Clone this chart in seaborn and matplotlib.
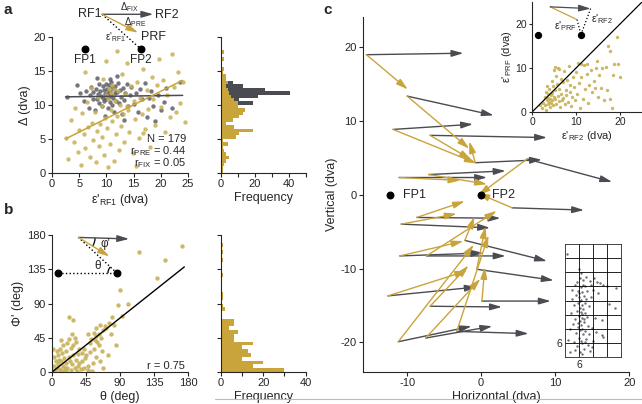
import numpy as np
import pandas as pd
import matplotlib.pyplot as plt
import seaborn as sns
from matplotlib.patches import Arc
from matplotlib.lines import Line2D

# ---- panel a: error of RF1 vs shift size ----
a_fix_x = [2.8, 4.5, 5.2, 5.8, 6.3, 6.8, 7.0, 7.2, 7.5, 7.6, 7.9, 8.1, 8.2, 8.4, 8.6, 8.7, 8.9, 9.0,
           9.1, 9.3, 9.4, 9.5, 9.6, 9.8, 9.9, 10.0, 10.1, 10.2, 10.3, 10.4, 10.5, 10.6, 10.7, 10.8,
           10.9, 11.0, 11.1, 11.2, 11.3, 11.4, 11.5, 11.6, 11.8, 12.0, 12.1, 12.3, 12.5, 12.7, 12.9,
           13.0, 13.3, 13.5, 13.8, 14.0, 14.3, 14.6, 15.0, 15.4, 15.8, 16.2, 16.6, 17.0, 17.4, 17.8,
           18.2, 18.6, 19.0, 19.5, 20.0, 20.5, 21.0, 22.0, 23.5, 13.2, 9.7, 11.9, 10.6, 8.3]
a_fix_y = [11.2, 12.9, 11.8, 10.5, 12.1, 9.6, 11.4, 12.6, 10.8, 11.9, 9.2, 12.4, 10.9, 11.6, 13.1,
           10.2, 12.0, 11.3, 9.8, 12.7, 11.0, 10.5, 12.2, 11.6, 13.0, 10.9, 12.4, 11.8, 9.5, 12.9,
           11.2, 10.4, 12.1, 13.4, 11.5, 10.0, 12.6, 11.0, 12.3, 9.0, 11.7, 12.8, 10.6, 11.9, 13.2,
           10.3, 12.2, 11.1, 8.6, 12.5, 10.7, 11.8, 13.0, 9.8, 11.4, 12.6, 10.1, 11.7, 9.0, 12.3,
           10.8, 13.2, 8.2, 11.0, 12.0, 9.9, 7.6, 11.5, 9.2, 10.4, 12.5, 9.5, 13.3, 7.8, 8.4, 14.3,
           13.8, 14.0]
a_pre_x = [2.5, 3.0, 3.5, 4.0, 4.2, 4.8, 5.0, 5.3, 5.6, 5.9, 6.1, 6.4, 6.7, 7.0, 7.2, 7.4, 7.6, 7.9,
           8.1, 8.3, 8.5, 8.7, 8.9, 9.1, 9.2, 9.4, 9.6, 9.8, 10.0, 10.1, 10.3, 10.5, 10.6, 10.8, 11.0,
           11.1, 11.3, 11.5, 11.7, 11.9, 12.1, 12.3, 12.5, 12.7, 12.9, 13.1, 13.3, 13.5, 13.8, 14.0,
           14.2, 14.5, 14.8, 15.0, 15.3, 15.6, 15.9, 16.2, 16.5, 16.8, 17.1, 17.4, 17.7, 18.0, 18.3,
           18.6, 18.9, 19.2, 19.6, 20.0, 20.4, 20.8, 21.2, 21.6, 22.0, 22.4, 22.8, 23.2, 23.6, 24.0,
           24.5, 12.0, 9.9, 15.5, 6.0, 10.8, 11.4, 10.2, 16.8, 13.7]
a_pre_y = [5.2, 2.0, 7.8, 4.6, 9.5, 3.1, 6.3, 1.2, 8.8, 5.7, 3.6, 10.4, 6.8, 2.4, 12.5, 7.4, 4.9,
           8.9, 1.6, 6.1, 11.2, 3.9, 7.2, 9.9, 5.3, 13.8, 2.7, 8.1, 11.5, 6.6, 0.9, 12.4, 4.2, 9.3,
           7.6, 12.9, 1.8, 10.6, 5.7, 8.4, 12.1, 3.3, 10.0, 6.9, 14.6, 8.7, 4.5, 11.6, 16.2, 9.2,
           6.0, 12.7, 2.9, 10.5, 7.9, 13.4, 5.1, 11.0, 8.6, 15.3, 6.4, 12.2, 9.4, 3.8, 14.1, 10.8,
           7.1, 12.9, 16.8, 9.7, 13.7, 6.0, 11.4, 8.2, 17.5, 12.6, 9.0, 14.8, 10.3, 13.4, 7.5, 17.9,
           16.5, 1.0, 14.8, 11.8, 12.3, 10.9, 5.8, 9.9]
a_fit_pre = [0.40, 4.0]     # slope, intercept
a_fit_fix = [0.01, 11.15]

# histogram of shift size, 0.5 dva bins from 0
a_bin_edges = [i * 0.5 for i in range(38)]
a_pre_counts = [1, 1, 2, 3, 5, 3, 2, 1, 4, 1, 9, 11, 19, 8, 3, 7, 11, 13, 14, 10,
                10, 8, 6, 5, 4, 3, 4, 3, 3, 1, 2, 0, 0, 2, 0, 2, 0]
a_fix_counts = [0, 0, 0, 0, 0, 0, 0, 0, 0, 0, 0, 0, 0, 0, 0, 0, 0, 2, 1, 8,
                19, 11, 22, 41, 26, 13, 7, 3, 2, 0, 0, 0, 0, 0, 0, 0, 0]

# ---- panel b: theta vs phi' ----
b_theta = [172, 150, 115, 139, 90, 87, 100, 92, 23, 28, 80, 75, 70, 68, 62, 58, 55, 52, 50, 60, 65,
           72, 78, 82, 85, 66, 58, 54, 48, 44, 40, 36, 32, 30, 28, 25, 22, 20, 18, 15, 12, 10, 8, 5,
           3, 2, 4, 6, 8, 10, 12, 14, 16, 18, 20, 22, 24, 26, 28, 30, 32, 34, 36, 38, 40, 42, 45, 47,
           50, 53, 56, 62, 64, 68, 74, 2, 1, 6, 11, 15, 19, 25, 33, 42, 58, 63, 47, 57, 35, 27, 13, 9, 17]
b_phi = [166, 147, 158, 124, 108, 88, 89, 74, 73, 68, 72, 65, 60, 55, 50, 48, 52, 44, 38, 40, 45,
         58, 50, 62, 35, 28, 20, 12, 8, 18, 25, 30, 40, 45, 36, 32, 44, 38, 28, 35, 42, 30, 22, 15,
         8, 3, 2, 5, 10, 4, 14, 8, 18, 12, 6, 20, 15, 10, 22, 5, 16, 24, 12, 4, 14, 30, 22, 3,
         26, 2, 30, 36, 14, 5, 22, 20, 30, 28, 2, 1, 2, 3, 1, 6, 58, 62, 50, 42, 8, 50, 25, 16, 5]
b_fit = [0.79, 0.0]
b_bin_edges = [i * 5 for i in range(37)]
b_counts = [30, 15, 20, 10, 14, 13, 10, 15, 6, 6, 8, 4, 6, 6, 0, 0, 2, 1,
            0, 1, 1, 0, 0, 0, 0, 1, 0, 0, 0, 1, 0, 1, 0, 1, 0, 0]

# ---- panel c: example trials (RF1 start, RF2 end, PRF end) ----
c_rf1_x = [-15.5, -10.0, -11.9, -6.9, -0.8, 6.2, -11.1, -7.1, 4.2, -8.7, -10.8, -2.2, -11.0,
           -7.4, -0.6, -12.6, 0.1, -6.9, -11.2, -7.5, -3.3]
c_rf1_y = [18.9, 13.3, 8.8, 8.0, 4.3, 4.8, 2.3, 2.7, -1.8, -3.1, -4.0, -6.2, -8.3,
           -8.3, -10.1, -13.7, -14.4, -15.1, -19.9, -19.4, -18.5]
c_rf2_x = [-2.4, 1.7, -1.1, 8.9, 8.2, 17.7, 0.8, 3.3, 13.9, 2.6, 1.2, 8.9, 0.3,
           3.3, 9.8, -0.6, 9.4, 2.8, -1.3, 1.5, 6.4]
c_rf2_y = [19.1, 10.7, 9.5, 7.7, 4.7, 1.7, 2.3, 3.2, -2.1, -3.2, -4.5, -9.0, -7.9,
           -8.3, -11.6, -12.5, -14.4, -15.2, -17.8, -17.8, -18.8]
c_prf_x = [-9.9, -1.6, -0.6, -1.3, -1.6, -0.4, -2.8, 0.8, -0.5, -2.2, -3.3, -0.9, -2.4,
           2.1, 0.6, -1.9, 0.5, -1.7, -1.0, -0.1, 1.0]
c_prf_y = [14.2, 6.2, 4.2, 4.7, 7.2, -0.1, 1.9, 1.4, 0.2, -0.9, -2.6, -3.0, -6.3,
           -2.2, -4.3, -10.3, -9.8, -9.6, -6.8, -11.4, -5.5]

# inset: error of RF2 vs error of PRF
c_err_rf2 = [2.5, 2.8, 3.0, 3.1, 3.3, 3.4, 3.5, 3.6, 3.7, 3.8, 3.9, 4.0, 4.1, 4.2, 4.3, 4.4, 4.5,
             4.6, 4.7, 4.8, 4.9, 5.0, 5.1, 5.3, 5.4, 5.5, 5.6, 5.8, 5.9, 6.0, 6.2, 6.3, 6.5, 6.6,
             6.8, 7.0, 7.1, 7.3, 7.5, 7.6, 7.8, 8.0, 8.2, 8.4, 8.5, 8.7, 8.9, 9.1, 9.3, 9.5, 9.8,
             10.0, 10.2, 10.5, 10.7, 10.9, 11.2, 11.5, 11.8, 12.1, 12.4, 12.7, 13.0, 13.3, 13.6,
             14.0, 14.3, 14.6, 15.0, 15.3, 15.6, 16.0, 16.3, 16.7, 17.0, 17.3, 17.6, 17.8, 18.1,
             18.4, 18.7, 19.2, 19.5, 20.0, 2.2, 1.8, 3.2, 6.1, 5.2, 12.5, 14.8, 11.0]
c_err_prf = [2.0, 3.5, 1.5, 4.6, 2.7, 6.0, 3.2, 1.8, 4.1, 2.3, 5.2, 3.0, 1.2, 3.8, 2.1, 7.0, 4.4,
             2.6, 5.8, 1.6, 3.4, 9.6, 2.9, 4.9, 8.2, 1.9, 6.4, 3.6, 9.9, 2.4, 5.3, 1.1, 7.5, 4.0,
             2.8, 6.8, 3.2, 9.2, 1.7, 5.0, 3.9, 7.3, 2.2, 10.4, 4.6, 6.1, 1.4, 3.5, 8.0, 5.6, 2.6,
             9.0, 4.1, 11.2, 6.5, 1.0, 7.9, 3.0, 10.6, 5.2, 8.7, 2.0, 6.2, 9.6, 4.5, 7.0, 5.5, 10.1,
             3.4, 8.4, 5.4, 9.9, 2.6, 10.2, 5.0, 14.9, 2.9, 13.8, 0.8, 8.3, 11.0, 17.0, 10.9, 7.9,
             0.8, 1.5, 0.5, 9.8, 10.2, 10.8, 11.5, 11.0]

# inset grid: RF positions in 6 dva grid
c_grid_x = [0.7, 6.0, 6.4, 5.2, 7.8, 9.0, 10.7, 12.5, 13.8, 15.0, 16.4, 17.9, 22.0, 11.3, 8.5, 6.9,
            4.1, 3.1, 5.6, 7.3, 9.6, 12.0, 14.2, 8.1, 6.2, 4.6, 2.9, 7.0, 9.2, 11.0, 5.8, 7.4, 8.6,
            3.8, 6.5, 7.9, 10.1, 21.4, 19.0, 5.3, 6.8, 7.5, 2.6, 8.8, 6.1, 7.2, 9.4, 4.4, 6.6, 8.1,
            15.7, 12.8, 3.4, 7.0, 5.5, 9.9, 11.6, 2.2, 6.3, 8.4, 4.8, 7.7, 10.5, 15.7, 16.5, 1.4,
            5.9, 9.1, 12.2, 3.7, 7.2, 9.8, 11.4, 5.0, 8.0, 6.6, 10.6, 7.1, 4.3, 13.4, 6.8, 5.9, 7.6,
            6.4, 8.3, 5.6, 7.3, 6.9, 8.7, 2.0]
c_grid_y = [43.7, 37.3, 33.5, 32.0, 32.8, 34.0, 32.3, 33.6, 32.0, 31.6, 30.8, 30.0, 29.4, 30.5,
            30.1, 29.6, 30.8, 28.5, 28.2, 27.5, 28.0, 28.4, 27.0, 26.0, 25.4, 26.3, 24.6, 24.1,
            24.8, 25.6, 23.0, 22.2, 22.8, 21.9, 21.0, 20.4, 21.7, 20.9, 22.5, 19.6, 19.1, 18.3,
            18.8, 18.9, 17.4, 16.6, 17.0, 16.2, 15.3, 14.8, 15.9, 16.4, 14.1, 13.6, 12.8, 13.0,
            12.2, 11.8, 11.4, 10.9, 10.0, 9.6, 9.9, 9.4, 8.4, 7.3, 8.1, 7.6, 7.0, 6.2, 5.8, 5.1,
            4.3, 4.6, 3.5, 2.2, 2.7, 1.4, 3.0, 10.5, 35.5, 27.0, 30.5, 23.7, 16.0, 14.5, 12.0, 7.0,
            6.3, 2.2]

GOLD = '#c9a43a'
GOLD_DOT = '#c8b156'
GREY = '#4b4b52'
GREY_DOT = '#5e5e68'

sns.set_style('ticks')
plt.rcParams['font.family'] = ['Liberation Sans', 'DejaVu Sans']
plt.rcParams['mathtext.fontset'] = 'custom'
plt.rcParams['mathtext.rm'] = 'Liberation Sans'
plt.rcParams['mathtext.it'] = 'Liberation Sans'
plt.rcParams['axes.unicode_minus'] = False
plt.rcParams['xtick.labelsize'] = 8
plt.rcParams['ytick.labelsize'] = 8
plt.rcParams['axes.labelsize'] = 9
plt.rcParams['axes.linewidth'] = 0.8
plt.rcParams['xtick.major.size'] = 3
plt.rcParams['ytick.major.size'] = 3
plt.rcParams['xtick.major.pad'] = 1.5
plt.rcParams['ytick.major.pad'] = 1.5

fig = plt.figure(figsize=(6.42, 4.04), dpi=100)


def arrow(ax, x0, y0, x1, y1, color, lw=1.0):
    ax.annotate('', xy=(x1, y1), xytext=(x0, y0), annotation_clip=False,
                arrowprops=dict(arrowstyle='-|>,head_length=0.7,head_width=0.2',
                                color=color, lw=lw, shrinkA=0, shrinkB=0))


def hbars(ax, edges, counts, color):
    # horizontal histogram from pre-binned counts
    df = pd.DataFrame({'v': [(edges[i] + edges[i + 1]) / 2 for i in range(len(counts))],
                       'n': counts})
    sns.histplot(data=df, y='v', weights='n', bins=list(edges), ax=ax,
                 color=color, alpha=1, edgecolor='none', linewidth=0)


# ---------------- panel a ----------------
ax_a = fig.add_axes([0.081, 0.572, 0.212, 0.337])
sns.scatterplot(x=a_fix_x, y=a_fix_y, ax=ax_a, color=GREY_DOT, s=10, linewidth=0, alpha=0.85)
sns.scatterplot(x=a_pre_x, y=a_pre_y, ax=ax_a, color=GOLD_DOT, s=10, linewidth=0, alpha=0.85)
xs = np.array([min(a_pre_x), max(a_pre_x) - 0.5])
sns.lineplot(x=xs, y=a_fit_fix[0] * xs + a_fit_fix[1], ax=ax_a, color=GREY, lw=1.1)
sns.lineplot(x=xs, y=a_fit_pre[0] * xs + a_fit_pre[1], ax=ax_a, color=GOLD, lw=1.1)
ax_a.set_xlim(0, 25)
ax_a.set_ylim(0, 20)
ax_a.set_xticks([0, 5, 10, 15, 20, 25])
ax_a.set_yticks([0, 5, 10, 15, 20])
ax_a.set_xlabel("ε'$_{\\rm RF1}$ (dva)", labelpad=2)
ax_a.set_ylabel('Δ (dva)', labelpad=2)
sns.despine(ax=ax_a)
ax_a.text(24.6, 5.0, 'N = 179', ha='right', va='center', fontsize=8)
ax_a.text(24.6, 3.2, 'r$_{\\rm PRE}$ = 0.44', ha='right', va='center', fontsize=8)
ax_a.text(24.6, 1.4, 'r$_{\\rm FIX}$ = 0.05', ha='right', va='center', fontsize=8)
# schematic
ax_a.scatter([6.1, 16.3], [18.2, 18.2], color='black', s=22, zorder=5, clip_on=False)
ax_a.text(6.1, 16.6, 'FP1', ha='center', va='center', fontsize=8.5)
ax_a.text(16.3, 16.6, 'FP2', ha='center', va='center', fontsize=8.5)
ax_a.plot([9.2, 16.3], [23.3, 18.2], ls=':', color='black', lw=1.0, clip_on=False)
arrow(ax_a, 9.2, 23.3, 18.6, 23.3, GREY)
arrow(ax_a, 9.2, 23.3, 15.8, 20.6, GOLD)
ax_a.text(9.1, 23.4, 'RF1', ha='right', va='center', fontsize=9)
ax_a.text(19.0, 23.2, 'RF2', ha='left', va='center', fontsize=9)
ax_a.text(16.3, 19.9, 'PRF', ha='left', va='center', fontsize=9)
ax_a.text(14.3, 24.3, 'Δ$_{\\rm FIX}$', ha='center', va='center', fontsize=7)
ax_a.text(15.2, 22.2, 'Δ$_{\\rm PRE}$', ha='center', va='center', fontsize=7)
ax_a.text(11.6, 19.9, "ε'$_{\\rm RF1}$", ha='center', va='center', fontsize=7)

ax_ah = fig.add_axes([0.344, 0.572, 0.132, 0.337])
hbars(ax_ah, a_bin_edges, a_fix_counts, GREY)
hbars(ax_ah, a_bin_edges, a_pre_counts, GOLD)
ax_ah.set_ylim(0, 20)
ax_ah.set_xlim(0, 50)
ax_ah.set_yticks([0, 5, 10, 15, 20])
ax_ah.set_yticklabels([])
ax_ah.set_xticks([0, 10, 20, 30, 40, 50])
ax_ah.set_xticklabels(['0', '', '20', '', '40', ''])
ax_ah.set_ylabel('')
ax_ah.set_xlabel('Frequency', labelpad=2)
sns.despine(ax=ax_ah)

# ---------------- panel b ----------------
ax_b = fig.add_axes([0.081, 0.079, 0.212, 0.339])
sns.scatterplot(x=b_theta, y=b_phi, ax=ax_b, color=GOLD_DOT, s=10, linewidth=0, alpha=0.9)
tx = np.array([0, 175])
sns.lineplot(x=tx, y=b_fit[0] * tx + b_fit[1], ax=ax_b, color='black', lw=1.0)
ax_b.set_xlim(0, 180)
ax_b.set_ylim(0, 180)
ax_b.set_xticks([0, 45, 90, 135, 180])
ax_b.set_yticks([0, 45, 90, 135, 180])
ax_b.set_xlabel('θ (deg)', labelpad=2)
ax_b.set_ylabel("Φ' (deg)", labelpad=2)
sns.despine(ax=ax_b)
ax_b.text(176, 8, 'r = 0.75', ha='right', va='center', fontsize=8)
# schematic
ax_b.scatter([8, 86], [130, 130], color='black', s=22, zorder=5)
ax_b.plot([8, 86], [130, 130], ls=':', color='black', lw=1.0)
ax_b.plot([86, 35], [130, 177], ls=':', color='black', lw=1.0)
arrow(ax_b, 35, 177, 102, 175, GREY)
arrow(ax_b, 35, 177, 76, 152, GOLD)
ax_b.add_patch(Arc((86, 130), 24, 24, theta1=137, theta2=180, color='black', lw=0.9))
ax_b.add_patch(Arc((35, 177), 44, 44, theta1=-32, theta2=-1, color='black', lw=0.9))
ax_b.text(71, 168, "φ'", ha='center', va='center', fontsize=8.5)
ax_b.text(60, 140, 'θ', ha='center', va='center', fontsize=8.5)

ax_bh = fig.add_axes([0.344, 0.079, 0.132, 0.339])
hbars(ax_bh, b_bin_edges, b_counts, GOLD)
ax_bh.set_ylim(0, 180)
ax_bh.set_xlim(0, 40)
ax_bh.set_yticks([0, 45, 90, 135, 180])
ax_bh.set_yticklabels([])
ax_bh.set_xticks([0, 10, 20, 30, 40])
ax_bh.set_xticklabels(['0', '', '20', '', '40'])
ax_bh.set_ylabel('')
ax_bh.set_xlabel('Frequency', labelpad=2)
sns.despine(ax=ax_bh)

# ---------------- panel c ----------------
ax_c = fig.add_axes([0.565, 0.079, 0.415, 0.879])
for i in range(len(c_rf1_x)):
    arrow(ax_c, c_rf1_x[i], c_rf1_y[i], c_rf2_x[i], c_rf2_y[i], GREY, lw=1.0)
for i in range(len(c_rf1_x)):
    arrow(ax_c, c_rf1_x[i], c_rf1_y[i], c_prf_x[i], c_prf_y[i], GOLD, lw=1.0)
ax_c.scatter([-12.3, 0], [0, 0], color='black', s=22, zorder=5)
ax_c.text(-10.6, 0, 'FP1', ha='left', va='center', fontsize=9)
ax_c.text(1.5, 0, 'FP2', ha='left', va='center', fontsize=9)
ax_c.set_xlim(-16, 20)
ax_c.set_ylim(-24, 24)
ax_c.set_xticks([-10, 0, 10, 20])
ax_c.set_yticks([-20, -10, 0, 10, 20])
ax_c.set_xlabel('Horizontal (dva)', labelpad=2)
ax_c.set_ylabel('Vertical (dva)', labelpad=2)
sns.despine(ax=ax_c)

ax_ci = fig.add_axes([0.829, 0.723, 0.171, 0.272])
sns.scatterplot(x=c_err_rf2, y=c_err_prf, ax=ax_ci, color=GOLD_DOT, s=6, linewidth=0, alpha=0.9)
sns.lineplot(x=[0, 25], y=[0, 25], ax=ax_ci, color='black', lw=0.9)
ax_ci.set_xlim(0, 25)
ax_ci.set_ylim(0, 25)
ax_ci.set_xticks([0, 10, 20])
ax_ci.set_yticks([0, 10, 20])
ax_ci.tick_params(labelsize=7.5, length=2.5)
ax_ci.set_xlabel("ε'$_{\\rm RF2}$ (dva)", fontsize=8, labelpad=1)
ax_ci.set_ylabel("ε'$_{\\rm PRF}$ (dva)", fontsize=8, labelpad=1)
sns.despine(ax=ax_ci)
ax_ci.scatter([1.4, 11.1], [17.6, 17.6], color='black', s=18, zorder=5)
ax_ci.plot([10.2, 11.1], [21.0, 17.6], ls=':', color='black', lw=0.9)
ax_ci.plot([13.3, 11.1], [23.5, 17.6], ls=':', color='black', lw=0.9)
arrow(ax_ci, 4.1, 23.9, 13.3, 23.5, GREY, lw=0.9)
ax_ci.plot([4.1, 10.2], [23.9, 21.0], color=GOLD, lw=0.9)
ax_ci.text(7.6, 19.6, "ε'$_{\\rm PRF}$", ha='center', va='center', fontsize=7.5)
ax_ci.text(15.8, 21.2, "ε'$_{\\rm RF2}$", ha='center', va='center', fontsize=7.5)

ax_g = fig.add_axes([0.880, 0.1163, 0.0872, 0.2797])
sns.scatterplot(x=c_grid_x, y=c_grid_y, ax=ax_g, color=GREY_DOT, s=3, linewidth=0, alpha=0.9)
ax_g.set_xlim(0, 24)
ax_g.set_ylim(0, 48)
for gx in [6, 12, 18]:
    ax_g.axvline(gx, color='black', lw=0.6)
for gy in [6, 12, 18, 24, 30, 36, 42]:
    ax_g.axhline(gy, color='black', lw=0.6)
for s in ax_g.spines.values():
    s.set_linewidth(0.6)
ax_g.set_xticks([6])
ax_g.set_yticks([6])
ax_g.set_xticklabels(['6'])
ax_g.set_yticklabels(['6'])
ax_g.tick_params(length=0, labelsize=7.5, pad=2)

# panel letters
fig.text(0.006, 0.975, 'a', fontsize=11, fontweight='bold', va='center')
fig.text(0.006, 0.48, 'b', fontsize=11, fontweight='bold', va='center')
fig.text(0.503, 0.975, 'c', fontsize=11, fontweight='bold', va='center')

# thin rule at the bottom
fig.add_artist(Line2D([0.335, 1.0], [0.012, 0.012], color='#bbbbbb', lw=0.8))

fig.savefig('out.png', dpi=100)
